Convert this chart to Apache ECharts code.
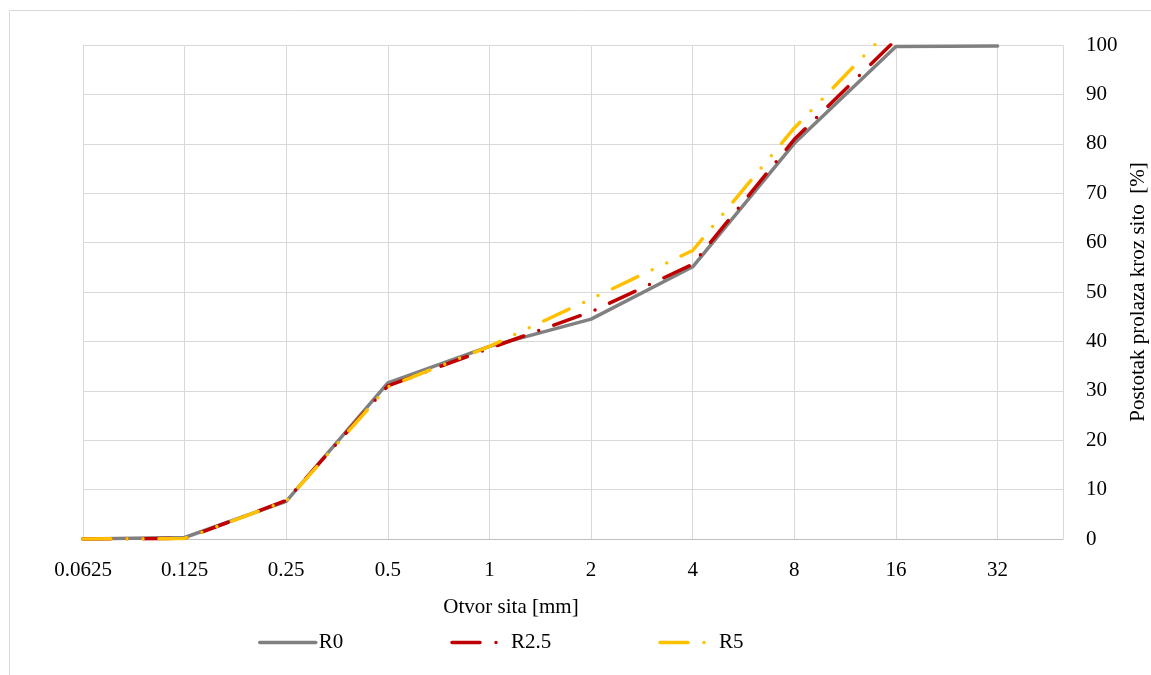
<!DOCTYPE html>
<html>
<head>
<meta charset="utf-8">
<script src="https://cdn.jsdelivr.net/npm/echarts@6/dist/echarts.min.js"></script>
<style>html,body{margin:0;padding:0;background:#fff}#c{width:1151px;height:675px}</style>
</head>
<body>
<div id="c"></div>
<script>
const sieves = [0.0625, 0.125, 0.25, 0.5, 1, 2, 4, 8, 16, 32];
const r0   = [0, 0.3, 7.6, 31.6, 39, 44.5, 55.1, 80.1, 99.7, 99.8];
const r2_5 = [0, 0.1, 7.8, 31.0, 38.6, 46.0, 55.6, 80.9, 101.1, null];
const r5   = [0, 0.1, 7.7, 30.8, 39.0, 48.6, 58.4, 83.2, 104.5, null];
const seriesNames = ['R0', 'R2.5', 'R5'];
const xName = 'Otvor sita [mm]';
const yName = 'Postotak prolaza kroz sito  [%]';

const pair = arr => sieves.map((s, i) => [s, arr[i]]).filter(p => p[1] !== null);
const font = '"Liberation Serif", "Times New Roman", serif';

const chart = echarts.init(document.getElementById('c'), null, {renderer: 'canvas'});
chart.setOption({
  animation: false,
  textStyle: {fontFamily: font, color: '#000'},
  graphic: [{type: 'rect', shape: {x: 9.5, y: 10.5, width: 1200, height: 700},
    style: {fill: 'none', stroke: '#d9d9d9', lineWidth: 1}, silent: true}],
  grid: {left: 83, right: 88, top: 45, bottom: 136, containLabel: false, outerBoundsMode: 'none'},
  xAxis: {
    type: 'log', logBase: 2, min: 0.0625, max: 50, splitNumber: 10,
    name: xName, nameLocation: 'middle', nameGap: 58,
    nameTextStyle: {fontSize: 21, fontFamily: font, color: '#000', padding: [0, 124, 0, 0]},
    axisLine: {show: true, lineStyle: {color: '#bfbfbf', width: 1}},
    axisTick: {show: false},
    axisLabel: {
      fontSize: 21, fontFamily: font, color: '#000', margin: 21,
      formatter: v => {
        const e = Math.log2(v);
        if (Math.abs(e - Math.round(e)) > 1e-6) return '';
        return String(+Math.pow(2, Math.round(e)).toPrecision(10));
      }
    },
    splitLine: {show: true, lineStyle: {color: '#d9d9d9', width: 1}}
  },
  yAxis: {
    type: 'value', position: 'right', min: 0, max: 100, interval: 10,
    name: yName, nameLocation: 'middle', nameRotate: 90, nameGap: 64,
    nameTextStyle: {fontSize: 21, fontFamily: font, color: '#000'},
    axisLine: {show: false}, axisTick: {show: false},
    axisLabel: {fontSize: 21, fontFamily: font, color: '#000', margin: 23},
    splitLine: {show: true, lineStyle: {color: '#d9d9d9', width: 1}}
  },
  legend: {
    left: 258, top: 632, padding: 0, itemWidth: 56, itemHeight: 14, itemGap: 107,
    itemStyle: {opacity: 0},
    lineStyle: {width: 3.5},
    textStyle: {fontSize: 21, fontFamily: font, color: '#000', padding: [0, 0, 0, -2]},
    data: seriesNames
  },
  series: [
    {name: seriesNames[0], type: 'line', data: pair(r0), showSymbol: false, symbol: 'none',
     lineStyle: {color: '#808080', width: 3.5, cap: 'round', join: 'round'}, itemStyle: {color: '#808080'}},
    {name: seriesNames[1], type: 'line', data: pair(r2_5), showSymbol: false, symbol: 'none',
     lineStyle: {color: '#C00000', width: 3.5, cap: 'round', join: 'round', type: [28, 16, 0, 16]}, itemStyle: {color: '#C00000'}},
    {name: seriesNames[2], type: 'line', data: pair(r5), showSymbol: false, symbol: 'none',
     lineStyle: {color: '#FFC000', width: 3.5, cap: 'round', join: 'round', type: [28, 16, 0, 16, 0, 16]}, itemStyle: {color: '#FFC000'}}
  ]
});
</script>
</body>
</html>
